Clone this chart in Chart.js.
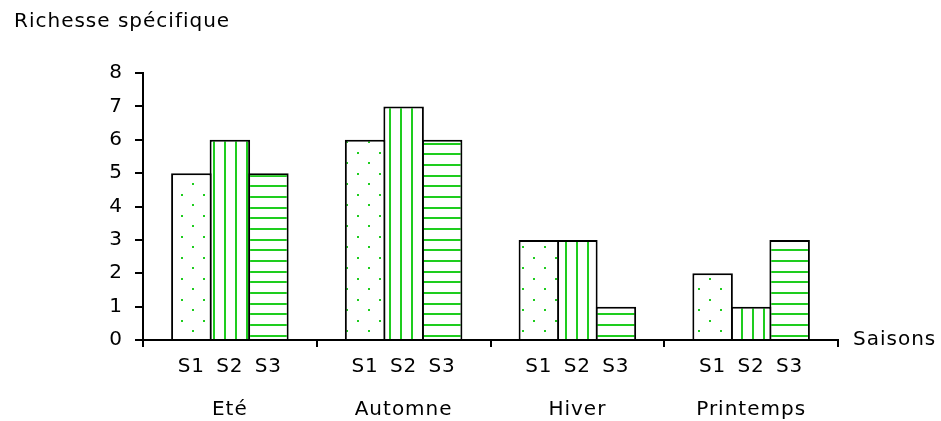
<!DOCTYPE html>
<html>
<head>
<meta charset="utf-8">
<script src="https://cdn.jsdelivr.net/npm/chart.js@4/dist/chart.umd.min.js"></script>
<style>
  html, body { margin: 0; padding: 0; background: #ffffff; }
  canvas { display: block; }
</style>
</head>
<body>
<canvas id="chart" width="941" height="421"></canvas>
<script>
// Species richness per season and station
const seasons = ['Eté', 'Automne', 'Hiver', 'Printemps'];
const stations = ['S1', 'S2', 'S3'];
const s1Values = [5, 6, 3, 2];
const s2Values = [6, 7, 3, 1];
const s3Values = [5, 6, 1, 3];
const yTicks = [0, 1, 2, 3, 4, 5, 6, 7, 8];
const yTitle = 'Richesse spécifique';
const xTitle = 'Saisons';

const GREEN = 'rgb(30,205,30)';
const FONT = '"DejaVu Sans", sans-serif';

// Hatch fills: dots, vertical lines, horizontal lines
function makePattern(w, h, draw) {
  const c = document.createElement('canvas');
  c.width = w; c.height = h;
  const g = c.getContext('2d');
  g.fillStyle = '#ffffff';
  g.fillRect(0, 0, w, h);
  g.fillStyle = GREEN;
  draw(g);
  return document.getElementById('chart').getContext('2d').createPattern(c, 'repeat');
}
const dotFill = makePattern(22, 21, g => {
  g.fillRect(5, 5, 2, 2);
  g.fillRect(16, 15, 2, 2);
});
const vLineFill = makePattern(11, 4, g => {
  g.fillRect(4, 0, 2, 4);
});
const hLineFill = makePattern(4, 32, g => {
  g.fillRect(0, 4, 4, 2);
  g.fillRect(0, 15, 4, 2);
  g.fillRect(0, 25, 4, 2);
});
const fills = [dotFill, vLineFill, hLineFill];
const seriesValues = [s1Values, s2Values, s3Values];

// Station labels under each bar plus the two axis titles
const labelsPlugin = {
  id: 'labelsPlugin',
  beforeDraw(chart) {
    chart.ctx.letterSpacing = '1px';
  },
  afterDraw(chart) {
    const ctx = chart.ctx;
    const area = chart.chartArea;
    ctx.save();
    ctx.fillStyle = '#000';
    ctx.font = '20px ' + FONT;
    ctx.textBaseline = 'middle';
    ctx.textAlign = 'center';
    chart.data.datasets.forEach((ds, i) => {
      chart.getDatasetMeta(i).data.forEach(bar => {
        ctx.fillText(ds.label, bar.x, area.bottom + 27);
      });
    });
    ctx.textAlign = 'left';
    ctx.fillText(yTitle, 14, 22);
    ctx.fillText(xTitle, area.right + 15, area.bottom);
    ctx.restore();
    ctx.letterSpacing = '0px';
  }
};

new Chart(document.getElementById('chart'), {
  type: 'bar',
  data: {
    labels: seasons,
    datasets: stations.map((name, i) => ({
      label: name,
      data: seriesValues[i],
      backgroundColor: fills[i],
      borderColor: '#000',
      borderWidth: 2,
      categoryPercentage: 0.665,
      barPercentage: 1.052
    }))
  },
  options: {
    responsive: false,
    animation: false,
    devicePixelRatio: 1,
    layout: { padding: { top: 73, right: 103, left: 0, bottom: 0 } },
    plugins: { legend: { display: false }, tooltip: { enabled: false } },
    scales: {
      x: {
        grid: { offset: true, drawOnChartArea: false, tickLength: 7, color: '#000', lineWidth: 2 },
        border: { color: '#000', width: 2 },
        ticks: { color: '#000', font: { family: FONT, size: 20 }, padding: 51, maxRotation: 0 },
        afterFit(s) { s.height = 81; }
      },
      y: {
        min: 0,
        max: 8,
        afterBuildTicks(s) { s.ticks = yTicks.map(v => ({ value: v })); },
        grid: { drawOnChartArea: false, tickLength: 8, color: '#000', lineWidth: 2 },
        border: { color: '#000', width: 2 },
        ticks: { color: '#000', font: { family: FONT, size: 20 }, padding: 12 },
        afterFit(s) { s.width = 143; }
      }
    }
  },
  plugins: [labelsPlugin]
});
</script>
</body>
</html>
